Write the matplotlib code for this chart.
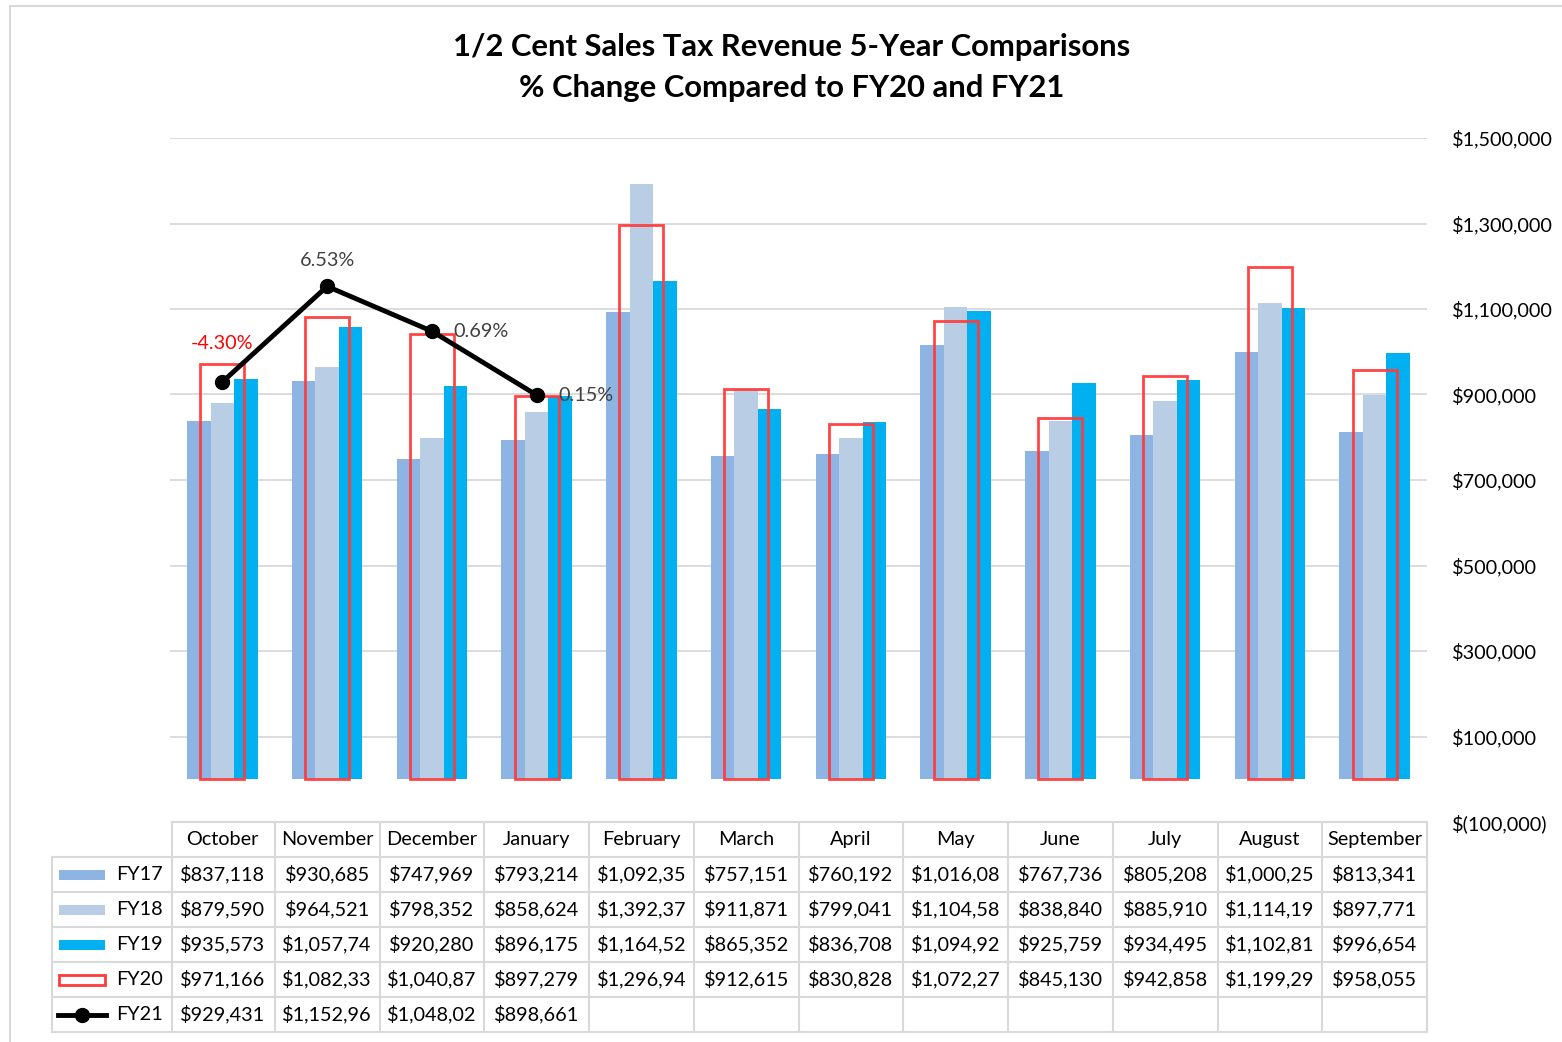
import matplotlib
matplotlib.use("Agg")
import matplotlib.pyplot as plt
from matplotlib.lines import Line2D
from matplotlib.patches import Rectangle
from matplotlib.transforms import blended_transform_factory
import numpy as np

plt.rcParams['font.family'] = ['Lato', 'DejaVu Sans']

months = ["October", "November", "December", "January", "February", "March",
          "April", "May", "June", "July", "August", "September"]
fy17 = [837118, 930685, 747969, 793214, 1092350, 757151, 760192, 1016080, 767736, 805208, 1000250, 813341]
fy18 = [879590, 964521, 798352, 858624, 1392370, 911871, 799041, 1104580, 838840, 885910, 1114190, 897771]
fy19 = [935573, 1057740, 920280, 896175, 1164520, 865352, 836708, 1094920, 925759, 934495, 1102810, 996654]
fy20 = [971166, 1082330, 1040870, 897279, 1296940, 912615, 830828, 1072270, 845130, 942858, 1199290, 958055]
fy21 = [929431, 1152960, 1048020, 898661]
fy21_labels = ["-4.30%", "6.53%", "0.69%", "0.15%"]
series_names = ["FY17", "FY18", "FY19", "FY20", "FY21"]
yticks = [-100000, 100000, 300000, 500000, 700000, 900000, 1100000, 1300000, 1500000]

c17, c18, c19, c20 = "#8EB4E3", "#B9CDE5", "#00B0F0", "#FF3B3B"
grid_c = "#D9D9D9"
txt_c = "#000000"

W, H = 1562, 1042
fig = plt.figure(figsize=(W / 100, H / 100), dpi=100)

def fx(px):
    return px / W

def fy(py):
    return 1 - py / H

ax_l, ax_r, ax_t, ax_b = 170, 1427, 138, 822
ax = fig.add_axes([fx(ax_l), fy(ax_b), fx(ax_r - ax_l), fy(ax_t) - fy(ax_b)])

x = np.arange(len(months))
bw = 0.224
ax.bar(x - bw, fy17, width=bw, color=c17, zorder=2)
ax.bar(x, fy18, width=bw, color=c18, zorder=2)
ax.bar(x + bw, fy19, width=bw, color=c19, zorder=2)
ax.bar(x, fy20, width=0.42, facecolor="none", edgecolor=c20, linewidth=2.0, alpha=0.95, zorder=3)

x21 = x[:len(fy21)]
ax.plot(x21, fy21, color="black", linewidth=3.5, marker="o", markersize=10, zorder=5)

# data labels
offsets = [(0, 30, "center", "bottom"), (0, 17, "center", "bottom"),
           (22, 0, "left", "center"), (22, 0, "left", "center")]
for xi, yi, lab, (dx, dy, ha, va) in zip(x21, fy21, fy21_labels, offsets):
    col = "#FF0000" if lab.startswith("-") else "#404040"
    ax.annotate(lab, (xi, yi), xytext=(dx * 0.72, dy * 0.72), textcoords="offset points",
                ha=ha, va=va, fontsize=14.3, color=col, zorder=6)

ax.set_xlim(-0.5, len(months) - 0.5)
ax.set_ylim(-100000, 1500000)
ax.set_yticks(yticks)

def fmt(v):
    if v < 0:
        return "$({:,.0f})".format(-v)
    return "${:,.0f}".format(v)

ax.set_yticklabels([fmt(v) for v in yticks])
ax.yaxis.tick_right()
ax.tick_params(axis="y", length=0, pad=18, labelsize=14.3, labelcolor="#000000")
ax.tick_params(axis="x", length=0, labelbottom=False)
for s in ax.spines.values():
    s.set_visible(False)
for v in yticks[1:]:
    ax.axhline(v, color=grid_c, linewidth=1.3, zorder=1)

# title
fig.text(fx(792), fy(47), "1/2 Cent Sales Tax Revenue 5-Year Comparisons", ha="center", va="center",
         fontsize=22.3, fontweight="bold", color="black")
fig.text(fx(792), fy(88), "% Change Compared to FY20 and FY21", ha="center", va="center",
         fontsize=22.3, fontweight="bold", color="black")

# data table
tr = blended_transform_factory(ax.transData, fig.transFigure)
row_tops = [822, 857, 892, 927, 962, 997, 1032]
leg_left_px = 52

x_leg_left = -0.5 - (ax_l - leg_left_px) / ((ax_r - ax_l) / len(months))
x_first = -0.5 + 2 / ((ax_r - ax_l) / len(months))
lkw = dict(color=grid_c, linewidth=1.5, transform=tr, clip_on=False, zorder=0)

# horizontal lines
ax.add_line(Line2D([x_first, 11.5], [fy(row_tops[0])] * 2, **lkw))
for r in row_tops[1:]:
    ax.add_line(Line2D([x_leg_left, 11.5], [fy(r)] * 2, **lkw))
# vertical lines
ax.add_line(Line2D([x_leg_left] * 2, [fy(row_tops[1]), fy(row_tops[-1])], **lkw))
ax.add_line(Line2D([x_first] * 2, [fy(row_tops[0]), fy(row_tops[-1])], **lkw))
for i in range(1, len(months) + 1):
    xe = i - 0.5
    ax.add_line(Line2D([xe] * 2, [fy(row_tops[0]), fy(row_tops[-1])], **lkw))

fs_tab = 14.3
for i, m in enumerate(months):
    ax.text(i, fy((row_tops[0] + row_tops[1]) / 2), m, transform=tr, ha="center", va="center",
            fontsize=fs_tab, color=txt_c, clip_on=False)

def cell(v):
    return "${:,.0f}".format(v)[:9]

all_series = [fy17, fy18, fy19, fy20, fy21]
for r, ser in enumerate(all_series):
    yc = fy((row_tops[r + 1] + row_tops[r + 2]) / 2)
    for i, v in enumerate(ser):
        ax.text(i, yc, cell(v), transform=tr, ha="center", va="center",
                fontsize=fs_tab, color=txt_c, clip_on=False)
    # legend label
    fig.text(fx(116), yc, series_names[r], ha="left", va="center", fontsize=fs_tab, color=txt_c)

# legend swatches (figure pixel coords)
def sw_rect(r, fc, ec, lw):
    yc = (row_tops[r + 1] + row_tops[r + 2]) / 2
    fig.add_artist(Rectangle((fx(59), fy(yc + 5)), fx(46), fy(yc - 5) - fy(yc + 5),
                             facecolor=fc, edgecolor=ec, linewidth=lw, transform=fig.transFigure))

sw_rect(0, c17, "none", 0)
sw_rect(1, c18, "none", 0)
sw_rect(2, c19, "none", 0)
sw_rect(3, "white", c20, 2.0)
yc5 = fy((row_tops[5] + row_tops[6]) / 2)
fig.add_artist(Line2D([fx(58), fx(106)], [yc5, yc5], color="black", linewidth=3.5,
                      transform=fig.transFigure))
fig.add_artist(Line2D([fx(82)], [yc5], color="black", marker="o", markersize=10,
                      transform=fig.transFigure))

# outer border
fig.add_artist(Line2D([fx(10), fx(10)], [fy(6), 0], color="#D9D9D9", linewidth=1.5, transform=fig.transFigure))
fig.add_artist(Line2D([fx(10), 1], [fy(6), fy(6)], color="#D9D9D9", linewidth=1.5, transform=fig.transFigure))

fig.savefig("out.png", dpi=100)
